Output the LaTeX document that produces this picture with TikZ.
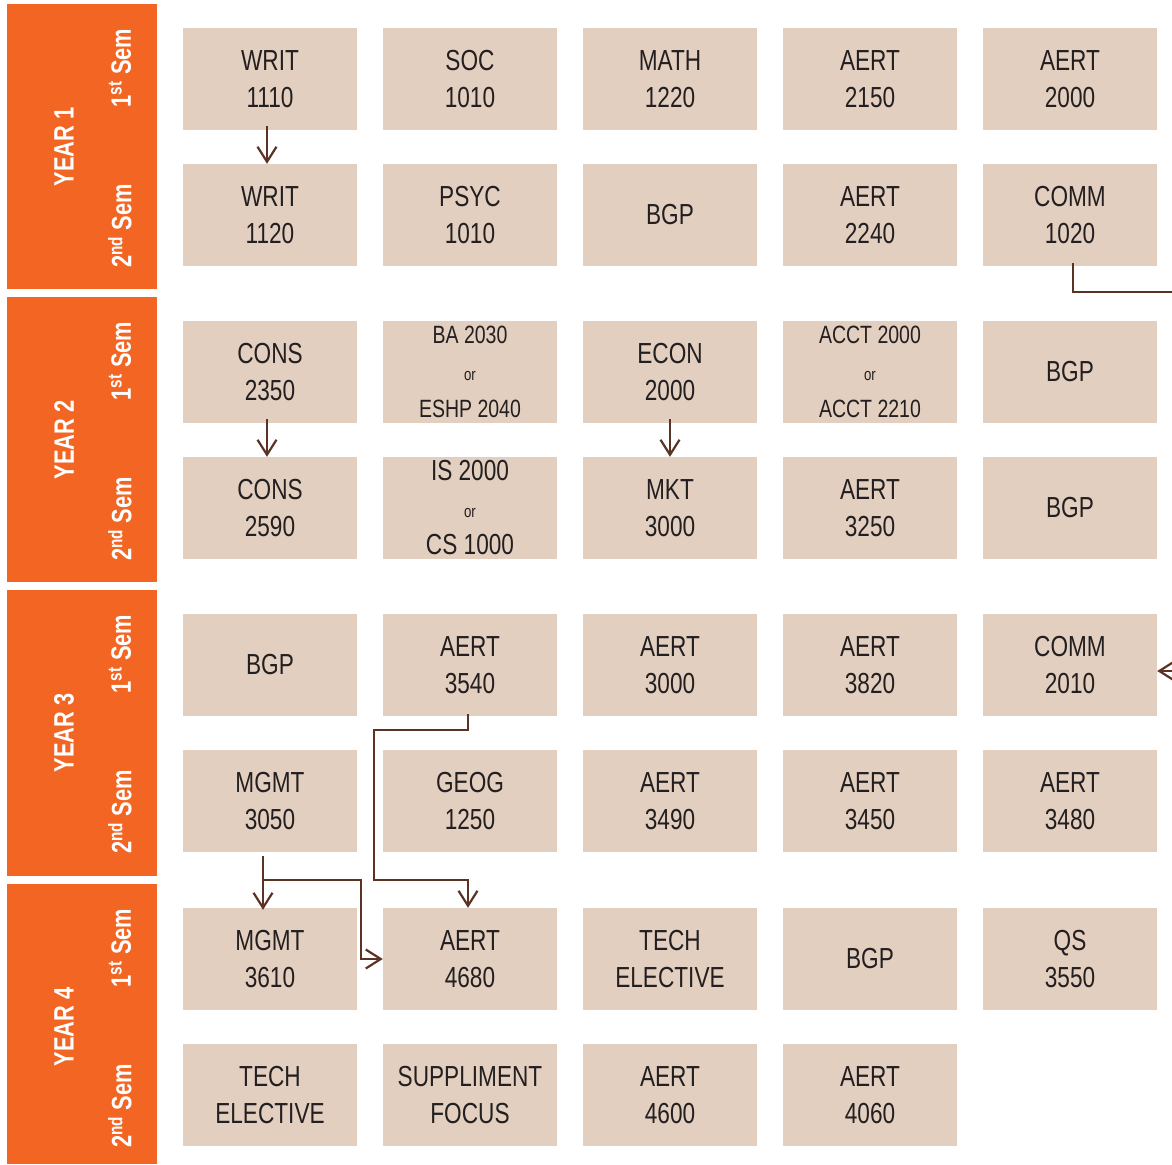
\documentclass[tikz,border=0pt]{standalone}
\usepackage{fontspec}
\setmainfont{Liberation Sans}[FakeStretch=0.78]
\usetikzlibrary{arrows.meta}

\definecolor{orangebar}{HTML}{F26522}
\definecolor{boxfill}{HTML}{E2CFC0}
\definecolor{linkbrown}{HTML}{5B3325}
\definecolor{ink}{HTML}{231F20}

\tikzset{
  course/.style={fill=boxfill, minimum width=174pt, minimum height=102pt,
    inner sep=0pt, align=center, text=ink, font=\fontsize{29}{37}\selectfont},
  yearbar/.style={fill=orangebar, minimum width=150pt, inner sep=0pt},
  yeartext/.style={rotate=90, text=white, font=\bfseries\fontsize{28}{30}\selectfont},
  semtext/.style={rotate=90, text=white, font=\bfseries\fontsize{28}{30}\selectfont},
  link/.style={draw=linkbrown, line width=2.2pt},
  arr/.style={link, -{Straight Barb[length=15pt, width=19pt]}}
}

\newcommand{\orline}[1]{{\fontsize{17}{36}\selectfont #1}}
\newcommand{\altline}[1]{{\fontsize{25}{36}\selectfont #1}}

\begin{document}
\begin{tikzpicture}[x=1pt, y=-1pt]
\useasboundingbox (0,0) rectangle (1172,1164);

    % Bandes orange des annees
    \foreach \y/\h [count=\k] in {4/285,297/285,590/286,884/280} {
        \node[yearbar, minimum height=\h pt, anchor=north west] (year\k) at (7,\y) {};
        \node[yeartext] (yl\k) at (64,\y+143) {YEAR \k};
        \node[semtext] (sa\k) at (120,\y+64) {1\textsuperscript{st} Sem};
        \node[semtext] (sb\k) at (120,\y+222) {2\textsuperscript{nd} Sem};
    }

    % Annee 1
    \foreach \txt [count=\c] in {{WRIT\\1110},{SOC\\1010},{MATH\\1220},{AERT\\2150},{AERT\\2000}} {
        \node[course] (s1c\c) at (70+200*\c,79) {\txt};
    }
    \foreach \txt [count=\c] in {{WRIT\\1120},{PSYC\\1010},{BGP},{AERT\\2240},{COMM\\1020}} {
        \node[course] (s2c\c) at (70+200*\c,215) {\txt};
    }

    % Annee 2
    \foreach \txt [count=\c] in {{CONS\\2350},
        {\altline{BA 2030}\\\orline{or}\\\altline{ESHP 2040}},
        {ECON\\2000},
        {\altline{ACCT 2000}\\\orline{or}\\\altline{ACCT 2210}},
        {BGP}} {
        \node[course] (s3c\c) at (70+200*\c,372) {\txt};
    }
    \foreach \txt [count=\c] in {{CONS\\2590},
        {IS 2000\\\orline{or}\\CS 1000},
        {MKT\\3000},{AERT\\3250},{BGP}} {
        \node[course] (s4c\c) at (70+200*\c,508) {\txt};
    }

    % Annee 3
    \foreach \txt [count=\c] in {{BGP},{AERT\\3540},{AERT\\3000},{AERT\\3820},{COMM\\2010}} {
        \node[course] (s5c\c) at (70+200*\c,665) {\txt};
    }
    \foreach \txt [count=\c] in {{MGMT\\3050},{GEOG\\1250},{AERT\\3490},{AERT\\3450},{AERT\\3480}} {
        \node[course] (s6c\c) at (70+200*\c,801) {\txt};
    }

    % Annee 4
    \foreach \txt [count=\c] in {{MGMT\\3610},{AERT\\4680},{TECH\\ELECTIVE},{BGP},{QS\\3550}} {
        \node[course] (s7c\c) at (70+200*\c,959) {\txt};
    }
    \foreach \txt [count=\c] in {{TECH\\ELECTIVE},{SUPPLIMENT\\FOCUS},{AERT\\4600},{AERT\\4060}} {
        \node[course] (s8c\c) at (70+200*\c,1095) {\txt};
    }

    % Prerequis
    \draw[arr] ([xshift=-3pt,yshift=4pt]s1c1.south) -- ([xshift=-3pt]s2c1.north);
    \draw[arr] ([xshift=-3pt,yshift=4pt]s3c1.south) -- ([xshift=-3pt]s4c1.north);
    \draw[arr] ([yshift=4pt]s3c3.south) -- (s4c3.north);

    % COMM 1020 vers COMM 2010 (par le bord droit)
    \coordinate (edgeA) at (1173,292);
    \coordinate (edgeB) at (1173,671);
    \draw[link] ([xshift=3pt,yshift=3pt]s2c5.south) |- (edgeA);
    \draw[arr] (edgeB) -- (s5c5.east |- edgeB);

    % AERT 3540 vers AERT 4680
    \draw[arr] ([xshift=-2pt,yshift=2pt]s5c2.south) -- ++(0,16) -| ++(-94,150)
        -| ([xshift=-2pt]s7c2.north);

    % MGMT 3050 vers MGMT 3610 et AERT 4680
    \draw[arr] ([xshift=-7pt,yshift=-4pt]s6c1.south) -- ([xshift=-7pt,yshift=-2pt]s7c1.north);
    \draw[arr] ([xshift=-7pt,yshift=-28pt]s6c1.south) -| ([xshift=-22pt]s7c2.west)
        -- (s7c2.west);

\end{tikzpicture}
\end{document}
